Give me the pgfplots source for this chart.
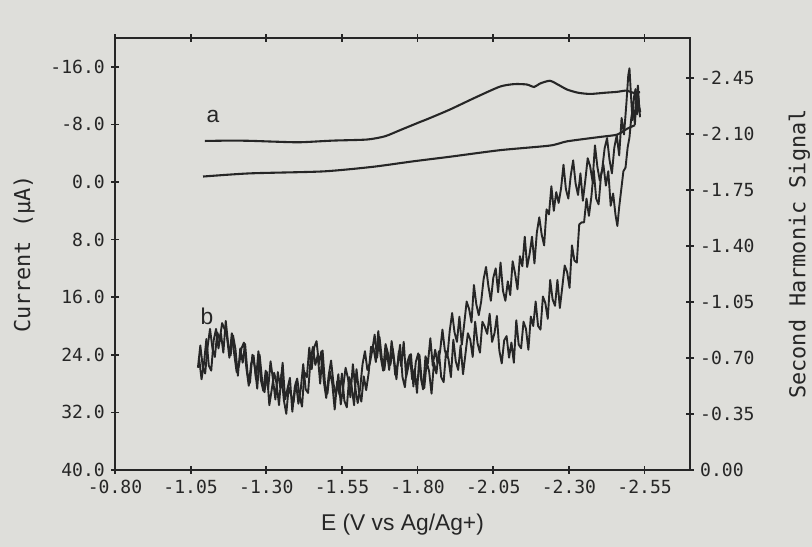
\documentclass[border=0pt]{standalone}
\usepackage{pgfplots}
\pgfplotsset{compat=1.18}
\usepackage{pgfplotstable}
\usepackage{fontspec}
\setmainfont{Liberation Sans}
\newfontfamily\monof{DejaVu Sans Mono}
\usetikzlibrary{backgrounds}
\definecolor{ink}{RGB}{38,38,38}
\definecolor{paper}{RGB}{222,222,218}

% curve a, upper branch (E in V, current in uA)
\pgfplotstableread{
E I
-1.097 -5.70
-1.180 -5.75
-1.246 -5.72
-1.330 -5.60
-1.411 -5.52
-1.520 -5.75
-1.633 -5.90
-1.692 -6.35
-1.742 -7.20
-1.800 -8.20
-1.841 -8.89
-1.907 -10.07
-1.990 -11.72
-2.072 -13.25
-2.120 -13.60
-2.161 -13.54
-2.185 -13.20
-2.204 -13.67
-2.237 -14.06
-2.265 -13.50
-2.294 -12.84
-2.330 -12.40
-2.370 -12.23
-2.420 -12.40
-2.459 -12.52
-2.490 -12.70
-2.512 -12.40
-2.535 -12.48
}\aup

% curve a, lower branch
\pgfplotstableread{
E I
-1.091 -0.76
-1.246 -1.20
-1.487 -1.47
-1.650 -2.10
-1.785 -2.87
-1.907 -3.51
-2.072 -4.42
-2.237 -5.06
-2.294 -5.65
-2.403 -6.26
-2.459 -6.58
-2.492 -7.39
-2.518 -7.89
}\alow

% curve b, first trace
\pgfplotstableread{
E I
-1.074 25.8
-1.082 22.7
-1.090 25.7
-1.098 26.6
-1.106 22.9
-1.114 20.4
-1.122 23.1
-1.130 24.3
-1.138 20.9
-1.146 21.9
-1.154 19.6
-1.162 20.4
-1.170 21.5
-1.178 24.4
-1.186 21.0
-1.194 23.9
-1.202 26.4
-1.210 25.4
-1.218 23.1
-1.226 22.3
-1.234 25.8
-1.242 28.3
-1.250 25.2
-1.258 24.1
-1.266 27.4
-1.274 23.5
-1.282 27.5
-1.290 29.0
-1.298 26.2
-1.306 28.8
-1.314 24.9
-1.322 27.4
-1.330 30.2
-1.338 26.4
-1.346 28.5
-1.354 25.1
-1.362 30.2
-1.370 28.7
-1.378 27.2
-1.386 31.9
-1.394 28.5
-1.402 27.3
-1.410 29.7
-1.418 31.2
-1.426 26.4
-1.434 27.1
-1.442 23.0
-1.450 26.0
-1.458 23.0
-1.466 22.1
-1.474 25.3
-1.482 23.5
-1.490 27.7
-1.498 30.0
-1.506 26.9
-1.514 24.8
-1.522 28.0
-1.530 29.7
-1.538 26.7
-1.546 30.9
-1.554 28.5
-1.562 25.8
-1.570 27.3
-1.578 29.9
-1.586 25.3
-1.594 28.6
-1.602 30.7
-1.610 28.7
-1.618 25.3
-1.626 23.5
-1.634 26.1
-1.642 25.2
-1.650 23.4
-1.658 21.2
-1.666 24.4
-1.674 21.5
-1.682 24.6
-1.690 26.1
-1.698 23.4
-1.706 26.1
-1.714 22.1
-1.722 24.5
-1.730 27.4
-1.738 23.5
-1.746 25.6
-1.754 22.2
-1.762 27.1
-1.770 25.5
-1.778 23.9
-1.786 28.4
-1.794 25.0
-1.802 23.8
-1.810 27.0
-1.818 28.8
-1.826 24.2
-1.834 25.2
-1.842 21.7
-1.850 25.5
-1.858 23.3
-1.866 25.2
-1.874 23.6
-1.882 20.5
-1.890 23.4
-1.898 24.4
-1.906 20.7
-1.914 18.2
-1.922 20.9
-1.930 22.2
-1.938 18.7
-1.946 22.6
-1.954 19.7
-1.962 16.6
-1.970 17.6
-1.978 19.5
-1.986 14.3
-1.994 17.0
-2.002 18.5
-2.010 16.6
-2.018 13.5
-2.026 11.8
-2.034 14.5
-2.042 16.5
-2.050 13.3
-2.058 12.0
-2.066 15.3
-2.074 11.2
-2.082 15.1
-2.090 16.5
-2.098 13.8
-2.106 15.7
-2.114 11.0
-2.122 12.7
-2.130 14.9
-2.138 10.3
-2.146 11.7
-2.154 7.6
-2.162 11.8
-2.170 10.0
-2.178 7.6
-2.186 11.3
-2.194 7.0
-2.202 4.9
-2.210 7.3
-2.218 8.8
-2.226 3.8
-2.234 4.5
-2.242 0.6
-2.250 4.0
-2.258 1.4
-2.266 2.9
-2.274 0.9
-2.282 -2.4
-2.290 1.0
-2.298 2.3
-2.306 -0.9
-2.314 -3.0
-2.322 0.2
-2.330 1.8
-2.338 -1.2
-2.346 2.6
-2.354 -0.2
-2.362 -3.3
-2.370 -2.2
-2.378 -0.1
-2.386 -5.1
-2.394 -2.1
-2.402 -0.2
-2.410 -1.8
-2.418 -4.7
-2.426 -6.1
-2.434 -3.1
-2.442 -1.2
-2.450 -4.8
-2.458 -6.5
-2.466 -3.7
-2.474 -8.9
-2.482 -6.6
-2.490 -11.0
-2.496 -14.8
-2.500 -15.8
-2.505 -12.0
-2.510 -8.6
-2.515 -11.8
-2.520 -12.9
-2.525 -9.4
-2.530 -11.6
-2.535 -9.0
}\bone

% curve b, second trace
\pgfplotstableread{
E I
-1.078 24.5
-1.086 27.4
-1.094 25.2
-1.102 21.8
-1.110 25.5
-1.118 26.2
-1.126 22.0
-1.134 20.4
-1.142 23.1
-1.150 21.0
-1.158 23.7
-1.166 19.3
-1.174 22.5
-1.182 24.1
-1.190 21.3
-1.198 23.2
-1.206 26.9
-1.214 23.1
-1.222 25.1
-1.230 22.5
-1.238 26.6
-1.246 27.9
-1.254 24.0
-1.262 25.7
-1.270 28.7
-1.278 24.0
-1.286 27.5
-1.294 29.2
-1.302 26.4
-1.310 31.0
-1.318 28.8
-1.326 26.5
-1.334 28.0
-1.342 31.0
-1.350 26.7
-1.358 30.3
-1.366 32.2
-1.374 28.5
-1.382 29.6
-1.390 30.6
-1.398 27.8
-1.406 30.8
-1.414 28.7
-1.422 25.3
-1.430 28.8
-1.438 29.3
-1.446 24.8
-1.454 22.9
-1.462 25.4
-1.470 24.0
-1.478 28.0
-1.486 23.4
-1.494 28.1
-1.502 29.4
-1.510 26.3
-1.518 28.0
-1.526 31.6
-1.534 27.7
-1.542 29.6
-1.550 26.6
-1.558 30.4
-1.566 31.3
-1.574 27.1
-1.582 28.4
-1.590 31.0
-1.598 26.0
-1.606 29.1
-1.614 30.5
-1.622 27.0
-1.630 28.9
-1.638 26.6
-1.646 22.9
-1.654 23.0
-1.662 25.0
-1.670 20.7
-1.678 24.3
-1.686 26.2
-1.694 22.5
-1.702 23.8
-1.710 25.4
-1.718 23.2
-1.726 26.8
-1.734 25.3
-1.742 22.6
-1.750 27.1
-1.758 28.5
-1.766 25.0
-1.774 24.0
-1.782 27.4
-1.790 26.0
-1.798 29.3
-1.806 24.0
-1.814 27.8
-1.822 28.6
-1.830 25.0
-1.838 26.3
-1.846 29.4
-1.854 25.1
-1.862 26.6
-1.870 23.5
-1.878 27.1
-1.886 27.8
-1.894 23.5
-1.902 24.6
-1.910 27.1
-1.918 21.9
-1.926 24.9
-1.934 26.1
-1.942 22.7
-1.950 26.7
-1.958 23.9
-1.966 21.0
-1.974 21.9
-1.982 24.3
-1.990 19.4
-1.998 22.4
-2.006 23.7
-2.014 19.4
-2.022 20.1
-2.030 21.1
-2.038 18.3
-2.046 22.2
-2.054 21.0
-2.062 18.6
-2.070 23.4
-2.078 25.2
-2.086 22.0
-2.094 21.4
-2.102 24.4
-2.110 22.3
-2.118 25.1
-2.126 19.2
-2.134 22.6
-2.142 23.1
-2.150 19.4
-2.158 20.4
-2.166 23.3
-2.174 18.7
-2.182 20.0
-2.190 16.6
-2.198 20.0
-2.206 20.5
-2.214 15.9
-2.222 16.8
-2.230 19.0
-2.238 13.6
-2.246 16.3
-2.254 17.2
-2.262 13.6
-2.270 17.5
-2.278 14.6
-2.286 11.6
-2.294 12.5
-2.302 14.7
-2.310 8.8
-2.318 10.9
-2.326 11.2
-2.334 5.9
-2.342 5.6
-2.350 5.6
-2.358 2.3
-2.366 4.7
-2.374 2.1
-2.382 -1.6
-2.390 2.3
-2.398 3.1
-2.406 -0.9
-2.414 -2.4
-2.422 0.5
-2.430 -1.5
-2.438 3.3
-2.446 1.6
-2.454 4.6
-2.460 6.1
-2.466 3.5
-2.473 1.0
-2.480 -1.5
-2.487 -2.0
-2.494 -4.8
-2.500 -6.2
-2.506 -8.9
-2.512 -10.4
-2.518 -8.0
-2.523 -11.8
-2.528 -13.4
-2.532 -10.5
-2.536 -9.7
}\btwo

\begin{document}
\begin{tikzpicture}
\pgfplotsset{
  common/.style={
    scale only axis,
    width=10.6375cm, height=7.992cm,
    xmin=-2.70, xmax=-0.80, x dir=reverse,
    axis line style={ink, line width=1.1pt},
    tick style={ink, line width=0.9pt},
    tick align=center,
    major tick length=0.13cm,
    minor tick num=0,
    ticklabel style={font=\monof\fontsize{9.5}{11}\selectfont, text=ink},
  },
}
\begin{axis}[common, name=ax,
  ymin=-20, ymax=40, y dir=reverse,
  xtick={-0.80,-1.05,-1.30,-1.55,-1.80,-2.05,-2.30,-2.55},
  xticklabels={-0.80,-1.05,-1.30,-1.55,-1.80,-2.05,-2.30,-2.55},
  xtick pos=both, xticklabel pos=lower,
  ytick={-16,-8,0,8,16,24,32,40},
  yticklabels={-16.0,-8.0,0.0,8.0,16.0,24.0,32.0,40.0},
  ytick pos=left,
  xlabel={E (V vs Ag/Ag+)},
  xlabel style={font=\fontsize{12}{14}\selectfont, text=ink, at={(axis description cs:0.5,-0.127)}, anchor=center},
  ylabel={Current (μA)},
  ylabel style={font=\monof\fontsize{11.5}{13}\selectfont, text=ink, at={(axis description cs:-0.158,0.5)}, anchor=center},
]
\addplot[ink, line width=1.1pt, smooth, tension=0.4] table[x=E, y=I] {\aup};
\addplot[ink, line width=1.1pt, smooth, tension=0.4] table[x=E, y=I] {\alow};
\addplot[ink, line width=1pt, sharp plot, line join=round] table[x=E, y=I] {\bone};
\addplot[ink, line width=1pt, sharp plot, line join=round] table[x=E, y=I] {\btwo};
\node[font=\fontsize{12}{14}\selectfont, text=ink] at (axis cs:-1.124,-9.05) {a};
\node[font=\fontsize{12}{14}\selectfont, text=ink] at (axis cs:-1.104,18.6) {b};
\end{axis}
\begin{axis}[common,
  ymin=-2.70, ymax=0, y dir=reverse,
  axis x line=none, axis y line*=right,
  ytick={0,-0.35,-0.70,-1.05,-1.40,-1.75,-2.10,-2.45},
  yticklabels={0.00,-0.35,-0.70,-1.05,-1.40,-1.75,-2.10,-2.45},
  ylabel={Second Harmonic Signal},
  ylabel style={font=\monof\fontsize{11.5}{13}\selectfont, text=ink, at={(axis description cs:1.19,0.5)}, anchor=center},
]
\end{axis}
\coordinate (bl) at ([shift={(-2.1275cm,-1.4245cm)}]ax.south west);
\coordinate (tr) at ([shift={(2.257cm,0.703cm)}]ax.north east);
\pgfresetboundingbox
\useasboundingbox (bl) rectangle (tr);
\begin{pgfonlayer}{background}
\fill[paper] (bl) rectangle (tr);
\end{pgfonlayer}
\end{tikzpicture}
\end{document}
